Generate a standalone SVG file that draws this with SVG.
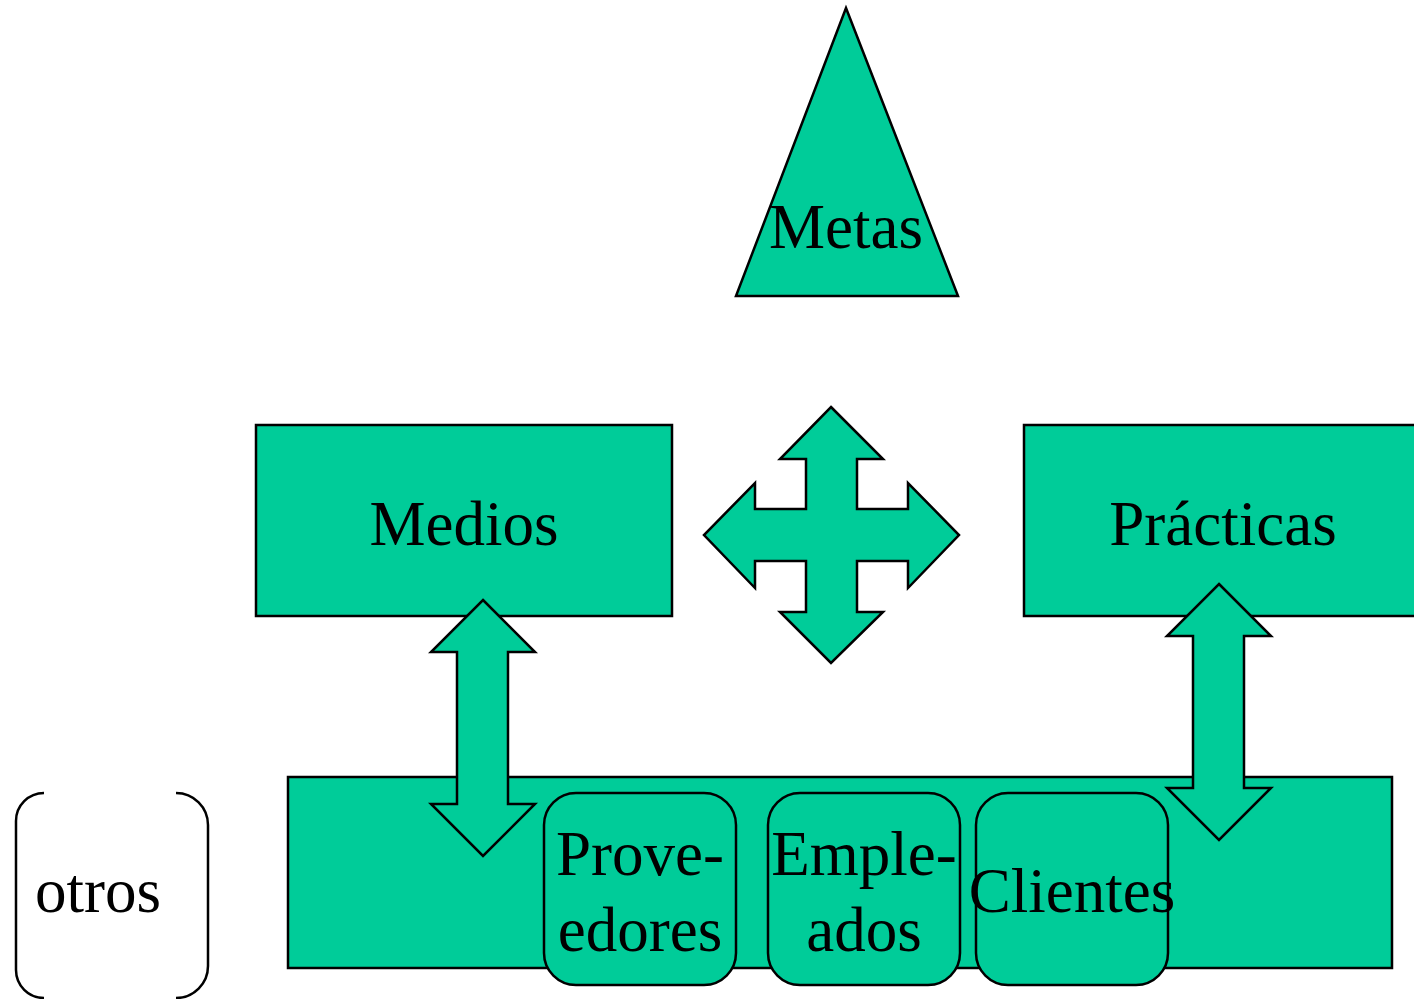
<svg xmlns="http://www.w3.org/2000/svg" width="1414" height="999" viewBox="0 0 1414 999">
<style>
.s{fill:#00CC99;stroke:#000;stroke-width:2.5;stroke-linejoin:miter}
.t{font-family:"Liberation Serif","Times New Roman",serif;font-size:63px;fill:#000;text-anchor:middle}
.b{fill:none;stroke:#000;stroke-width:2.5}
</style>
<rect width="1414" height="999" fill="#fff"/>
<g id="metas">
<polygon class="s" points="846,8 958,296 736,296"/>
<text class="t" x="846" y="248">Metas</text>
</g>
<g id="medios">
<rect class="s" x="256" y="425" width="416" height="191"/>
<text class="t" x="464" y="545">Medios</text>
</g>
<g id="practicas">
<rect class="s" x="1024" y="425" width="400" height="191"/>
<text class="t" x="1223" y="545">Prácticas</text>
</g>
<g id="grupo">
<rect class="s" x="288" y="777" width="1104" height="191"/>
</g>
<g id="connectors">
<path class="s" d="M831,407 L883,459 L857,459 L857,509 L908,509 L908,483 L959,535 L908,588 L908,561 L857,561 L857,612 L883,612 L831,663 L780,612 L806,612 L806,561 L755,561 L755,588 L704,535 L755,483 L755,509 L806,509 L806,459 L780,459 Z"/>
<path class="s" d="M483,600 L535,652 L508,652 L508,804 L535,804 L483,856 L431,804 L457,804 L457,652 L431,652 Z"/>
<path class="s" d="M1219,584 L1271,636 L1244,636 L1244,788 L1271,788 L1219,840 L1167,788 L1193,788 L1193,636 L1167,636 Z"/>
</g>
<g id="proveedores">
<rect class="s" x="544" y="793" width="192" height="192" rx="32" ry="32"/>
<text class="t" x="640" y="875">Prove-</text>
<text class="t" x="640" y="951">edores</text>
</g>
<g id="empleados">
<rect class="s" x="768" y="793" width="192" height="192" rx="32" ry="32"/>
<text class="t" x="864" y="875">Emple-</text>
<text class="t" x="864" y="951">ados</text>
</g>
<g id="clientes">
<rect class="s" x="976" y="793" width="192" height="192" rx="32" ry="32"/>
<text class="t" x="1072" y="912">Clientes</text>
</g>
<g id="otros">
<path class="b" d="M44,793 A28,28 0 0 0 16,821 L16,970 A28,28 0 0 0 44,998"/>
<path class="b" d="M176,793 A32,32 0 0 1 208,825 L208,966 A32,32 0 0 1 176,998"/>
<text class="t" x="98" y="912">otros</text>
</g>
</svg>
